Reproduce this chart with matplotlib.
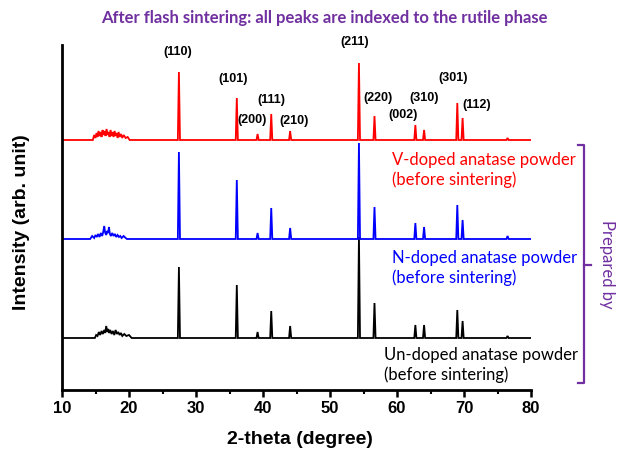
import numpy as np
import matplotlib
matplotlib.use("Agg")
import matplotlib.pyplot as plt
from matplotlib.lines import Line2D

# ---- data ----
peak_pos = [27.45, 36.09, 39.19, 41.23, 44.05, 54.32, 56.64, 62.74, 64.04, 69.00, 69.79, 76.5]
hkl = ["(110)", "(101)", "(200)", "(111)", "(210)", "(211)", "(220)", "(002)", "(310)", "(301)", "(112)", None]

red_heights = [68, 42, 6, 26, 9, 77, 24, 15, 10, 37, 22, 2]
blue_heights = [87, 59, 6, 31, 11, 96, 32, 16, 12, 34, 19, 3]
black_heights = [71, 53, 6, 27, 12, 101, 35, 13, 13, 28, 17, 2]

red_base, blue_base, black_base = 250, 151, 52

# broad amorphous hump (2theta, height above baseline), read as a jagged trace
red_hump_x = [14.6, 14.8, 15.0, 15.15, 15.3, 15.45, 15.6, 15.75, 15.9, 16.05, 16.2, 16.35,
              16.5, 16.65, 16.8, 16.95, 17.1, 17.25, 17.4, 17.55, 17.7, 17.85, 18.0, 18.15,
              18.3, 18.45, 18.6, 18.8, 19.0, 19.2, 19.5, 19.8, 20.1]
red_hump_y = [0, 5, 2, 7, 3, 9, 4, 8, 3, 10, 5, 9, 4, 11, 5, 8, 3, 10, 4, 8, 3, 9, 4, 7,
              2, 8, 3, 6, 2, 5, 2, 3, 0]
blue_hump_x = [14.2, 14.5, 14.8, 15.0, 15.2, 15.4, 15.6, 15.8, 16.0, 16.15, 16.3, 16.45,
               16.6, 16.75, 16.9, 17.0, 17.15, 17.3, 17.5, 17.7, 17.9, 18.1, 18.3, 18.5,
               18.7, 18.9, 19.2, 19.5, 19.7]
blue_hump_y = [0, 3, 1, 4, 2, 5, 2, 6, 3, 7, 13, 6, 4, 8, 6, 12, 5, 3, 6, 3, 5, 2, 4, 2,
               3, 1, 3, 1, 0]
black_hump_x = [14.9, 15.1, 15.3, 15.5, 15.7, 15.9, 16.1, 16.3, 16.45, 16.6, 16.75, 16.9,
                17.05, 17.2, 17.4, 17.6, 17.8, 18.0, 18.2, 18.4, 18.6, 18.8, 19.0, 19.3,
                19.6, 20.0, 20.4]
black_hump_y = [0, 3, 2, 6, 3, 7, 4, 8, 5, 12, 6, 9, 5, 8, 4, 7, 3, 8, 4, 6, 3, 5, 2, 4,
                2, 3, 0]

label_x = [27.3, 35.5, 38.4, 41.2, 44.6, 53.7, 57.2, 60.9, 64.0, 68.4, 71.9]
label_y = [338, 311, 270, 290, 269, 348, 292, 275, 292, 312, 285]

x_ticks = [10, 20, 30, 40, 50, 60, 70, 80]

PURPLE = "#7030A0"
HALF_WIDTH = 0.16


def pattern(base, heights, hump_x, hump_y):
    xs, ys = [10.0], [base]
    for hx, hy in zip(hump_x, hump_y):
        xs.append(hx)
        ys.append(base + hy)
    for p, h in zip(peak_pos, heights):
        xs += [p - HALF_WIDTH, p, p + HALF_WIDTH]
        ys += [base, base + h, base]
    xs.append(80.0)
    ys.append(base)
    order = np.argsort(xs, kind="stable")
    return np.array(xs)[order], np.array(ys)[order]


fig = plt.figure(figsize=(6.22, 4.55), dpi=100)
ax = fig.add_axes([62 / 622, 1 - 390 / 455, (531 - 62) / 622, (390 - 45) / 455])

for base, hts, hx, hy, col in [
    (black_base, black_heights, black_hump_x, black_hump_y, "black"),
    (blue_base, blue_heights, blue_hump_x, blue_hump_y, "#0000FF"),
    (red_base, red_heights, red_hump_x, red_hump_y, "#FF0000"),
]:
    x, y = pattern(base, hts, hx, hy)
    ax.plot(x, y, color=col, lw=1.3, solid_joinstyle="miter")

for lab, lx, ly in zip(hkl, label_x, label_y):
    if lab:
        ax.text(lx, ly, lab, ha="center", va="center", fontsize=9,
                fontweight="bold", family="Liberation Sans", clip_on=False)

ax.set_xlim(10, 80)
ax.set_ylim(0, 345)
ax.set_xticks(x_ticks)
ax.set_xticks(np.arange(15, 80, 10), minor=True)
ax.set_yticks([])
for s in ["top", "right"]:
    ax.spines[s].set_visible(False)
for s in ["left", "bottom"]:
    ax.spines[s].set_linewidth(2)
ax.tick_params(axis="x", which="major", direction="out", length=5, width=1.8,
               labelsize=12, pad=3)
ax.tick_params(axis="x", which="minor", direction="out", length=3, width=1.5)
for t in ax.get_xticklabels():
    t.set_fontweight("bold")
    t.set_family("Liberation Sans")

fig.text(300 / 622, 1 - 440 / 455, "2-theta (degree)", ha="center", va="center",
         fontsize=14, fontweight="bold", family="Liberation Sans")
fig.text(22 / 622, 1 - 222 / 455, "Intensity (arb. unit)", ha="center", va="center",
         rotation=90, fontsize=14, fontweight="bold", family="Liberation Sans")

fig.text(324 / 622, 1 - 18 / 455,
         "After flash sintering: all peaks are indexed to the rutile phase",
         ha="center", va="center", fontsize=12, fontweight="bold", color=PURPLE,
         family="Lato")

fig.text(392 / 622, 1 - 170 / 455, "V-doped anatase powder\n(before sintering)",
         ha="left", va="center", fontsize=12, color="#FF0000", family="Lato",
         linespacing=1.2)
fig.text(392 / 622, 1 - 268 / 455, "N-doped anatase powder\n(before sintering)",
         ha="left", va="center", fontsize=12, color="#0000FF", family="Lato",
         linespacing=1.2)
fig.text(384 / 622, 1 - 365 / 455, "Un-doped anatase powder\n(before sintering)",
         ha="left", va="center", fontsize=12, color="black", family="Lato",
         linespacing=1.2)


# bracket
def fx(px):
    return px / 622


def fy(py):
    return 1 - py / 455


bx = 584
fig.add_artist(Line2D([fx(578), fx(bx), fx(bx), fx(578)],
                      [fy(145), fy(145), fy(383), fy(383)],
                      transform=fig.transFigure, color=PURPLE, lw=1.6))
fig.add_artist(Line2D([fx(bx), fx(591)], [fy(265), fy(265)],
                      transform=fig.transFigure, color=PURPLE, lw=1.6))
fig.text(fx(607), fy(264), "Prepared by", rotation=270, ha="center", va="center",
         fontsize=12, color=PURPLE, family="Lato")

fig.savefig("out.png", dpi=100)
